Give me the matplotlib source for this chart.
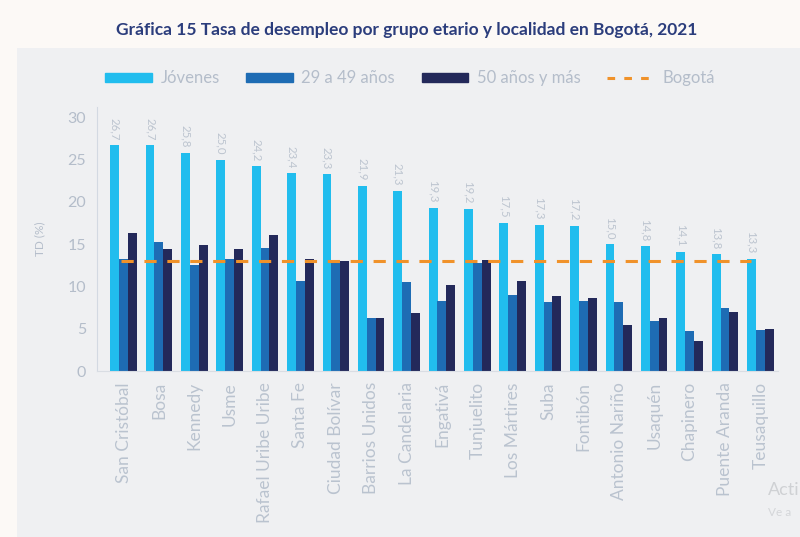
import matplotlib.pyplot as plt
import matplotlib.patches as mpatches
from matplotlib.lines import Line2D
import numpy as np

plt.rcParams['font.family'] = ['Lato', 'DejaVu Sans']

localidades = ['San Cristóbal', 'Bosa', 'Kennedy', 'Usme', 'Rafael Uribe Uribe',
               'Santa Fe', 'Ciudad Bolívar', 'Barrios Unidos', 'La Candelaria',
               'Engativá', 'Tunjuelito', 'Los Mártires', 'Suba', 'Fontibón',
               'Antonio Nariño', 'Usaquén', 'Chapinero', 'Puente Aranda', 'Teusaquillo']
jovenes = [26.7, 26.7, 25.8, 25.0, 24.2, 23.4, 23.3, 21.9, 21.3, 19.3,
           19.2, 17.5, 17.3, 17.2, 15.0, 14.8, 14.1, 13.8, 13.3]
adultos_29_49 = [13.3, 15.2, 12.5, 13.2, 14.6, 10.7, 13.0, 6.3, 10.5, 8.3,
                 12.8, 9.0, 8.2, 8.3, 8.2, 5.9, 4.7, 7.4, 4.9]
mayores_50 = [16.3, 14.4, 14.9, 14.4, 16.1, 13.3, 13.0, 6.3, 6.9, 10.2,
              13.1, 10.6, 8.9, 8.6, 5.5, 6.3, 3.6, 7.0, 5.0]
bogota = 13.0

c_jov = '#21bdee'
c_mid = '#1e6cb4'
c_old = '#23295a'
c_bog = '#f0922a'
c_txt = '#b4bdca'

fig = plt.figure(figsize=(8, 5.37), dpi=100)
fig.patch.set_facecolor('#fcf9f6')
panel = mpatches.Rectangle((17 / 800, 0), 1, 1 - 48 / 537, transform=fig.transFigure,
                           facecolor='#eff0f2', edgecolor='none', zorder=-10)
fig.add_artist(panel)

ax = fig.add_axes([97 / 800, 0.309, (778 - 97) / 800, 0.4916])
ax.set_facecolor('none')
ax.set_zorder(5)

x = np.arange(len(localidades))
w = 0.25
ax.bar(x - w, jovenes, w, color=c_jov, zorder=2)
ax.bar(x, adultos_29_49, w, color=c_mid, zorder=2)
ax.bar(x + w, mayores_50, w, color=c_old, zorder=2)
ax.plot([x[0] - 0.08, x[-1] - w], [bogota, bogota], color=c_bog, lw=2.2,
        dashes=(4, 3.5), zorder=3)

for xi, v in zip(x, jovenes):
    ax.text(xi - w, v + 0.6, f'{v:.1f}'.replace('.', ','), rotation=-90,
            ha='center', va='bottom', fontsize=8.2, color='#bcc4cf')

ax.set_xlim(-0.75, 18.5)
ax.set_ylim(0, 31.2)
ax.set_yticks(range(0, 31, 5))
ax.set_xticks(x)
ax.set_xticklabels(localidades, rotation=90, fontsize=12.5, color='#bac3cf')
ax.tick_params(axis='y', labelsize=11.5, colors=c_txt, length=0, pad=8)
ax.tick_params(axis='x', length=0, pad=8)
for s in ['top', 'right']:
    ax.spines[s].set_visible(False)
ax.spines['left'].set_color('#d3d9e2')
ax.spines['bottom'].set_color('#d9dde3')
ax.set_ylabel('TD (%)', fontsize=8.5, color=c_txt, labelpad=16)

handles = [mpatches.Patch(color=c_jov), mpatches.Patch(color=c_mid),
           mpatches.Patch(color=c_old),
           Line2D([0], [0], color=c_bog, lw=2.2, dashes=(2.5, 3))]
labels = ['Jóvenes', '29 a 49 años', '50 años y más', 'Bogotá']
leg = fig.legend(handles, labels, loc='center', bbox_to_anchor=(410 / 800, 1 - 78 / 537),
                 ncol=4, frameon=False, fontsize=12, handlelength=2.8, handleheight=0.45,
                 columnspacing=1.6, handletextpad=0.5)
for t in leg.get_texts():
    t.set_color(c_txt)

fig.text(0.508, 1 - 30 / 537, 'Gráfica 15 Tasa de desempleo por grupo etario y localidad en Bogotá, 2021',
         ha='center', va='center', fontsize=12.5, fontweight='bold', color='#2b3d7c')

fig.text(768 / 800, 1 - 490 / 537, 'Acti', fontsize=13, color='#cfd1d4', va='center')
fig.text(768 / 800, 1 - 512 / 537, 'Ve a', fontsize=8.5, color='#d4d6d9', va='center')

fig.savefig('out.png', dpi=100, facecolor=fig.get_facecolor())
